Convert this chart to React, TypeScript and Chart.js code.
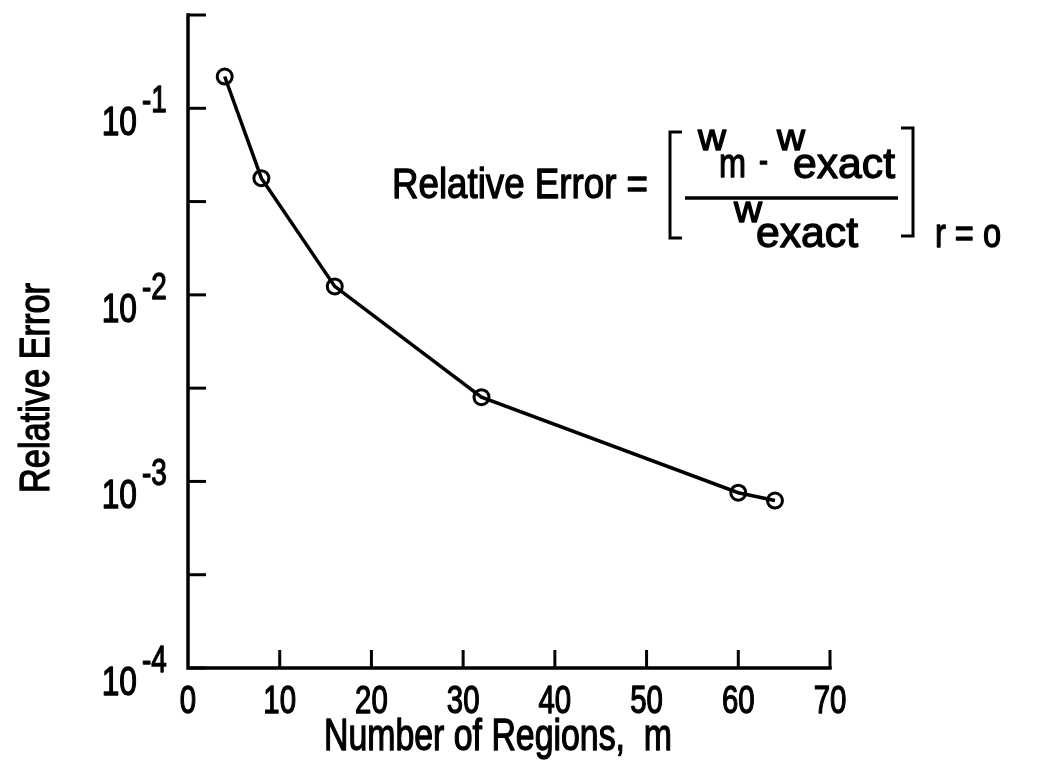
import { useEffect, useRef } from "react";
import { Chart, registerables } from "chart.js";

Chart.register(...registerables);

// ---- data ----
const regions = [4, 8, 16, 32, 60, 64];
const relError = [0.148, 0.0422, 0.0111, 0.00283, 0.00087, 0.00079];
const xTicks = [0, 10, 20, 30, 40, 50, 60, 70];
const xTickLabels = ["0", "10", "20", "30", "40", "50", "60", "70"];
const yMajorTicks = [1e-4, 1e-3, 1e-2, 1e-1];
const yMajorExponents = ["-4", "-3", "-2", "-1"];
const yMinorTicks = [3.1623e-4, 3.1623e-3, 3.1623e-2, 3.1623e-1];
const xTitle = "Number of Regions,  m";
const yTitle = "Relative Error";
const X_MIN = 0;
const X_MAX = 70;
const Y_MIN = 1e-4;
const Y_MAX = 3.1623e-1;

const FONT = "'Liberation Sans', 'DejaVu Sans', sans-serif";

function drawText(
  ctx: CanvasRenderingContext2D,
  s: string,
  x: number,
  y: number,
  size: number,
  align: "left" | "center" | "right",
  targetWidth?: number,
  weight = 1.3
) {
  ctx.font = `${size}px ${FONT}`;
  const w = ctx.measureText(s).width;
  const zero = ctx.measureText("0").width;
  const k = targetWidth ? targetWidth / w : (0.43 * size) / zero;
  const tw = w * k;
  const left = align === "left" ? x : align === "center" ? x - tw / 2 : x - tw;
  ctx.save();
  ctx.translate(left, y);
  ctx.scale(k, 1);
  ctx.textAlign = "left";
  ctx.textBaseline = "alphabetic";
  ctx.fillStyle = "#000";
  ctx.strokeStyle = "#000";
  ctx.lineJoin = "round";
  ctx.lineWidth = weight;
  ctx.fillText(s, 0, 0);
  if (weight > 0) ctx.strokeText(s, 0, 0);
  ctx.restore();
  return tw;
}

const decor = {
  id: "decor",
  beforeDatasetsDraw(chart: any) {
    const ctx: CanvasRenderingContext2D = chart.ctx;
    const xs = chart.scales.x;
    const ys = chart.scales.y;
    const x0 = xs.getPixelForValue(X_MIN);
    const x1 = xs.getPixelForValue(X_MAX);
    const yb = ys.getPixelForValue(Y_MIN);
    const yt = ys.getPixelForValue(Y_MAX);
    ctx.save();
    ctx.strokeStyle = "#000";
    ctx.lineCap = "square";
    ctx.lineWidth = 3.5;
    ctx.beginPath();
    ctx.moveTo(x0, yt);
    ctx.lineTo(x0, yb);
    ctx.lineTo(x1, yb);
    ctx.stroke();
    ctx.lineWidth = 3;
    ctx.lineCap = "butt";
    const tick = 18;
    [...yMajorTicks, ...yMinorTicks].forEach((v) => {
      const py = ys.getPixelForValue(v);
      ctx.beginPath();
      ctx.moveTo(x0, py);
      ctx.lineTo(x0 + tick, py);
      ctx.stroke();
    });
    xTicks.forEach((v) => {
      if (v === X_MIN) return;
      const px = xs.getPixelForValue(v);
      ctx.beginPath();
      ctx.moveTo(px, yb);
      ctx.lineTo(px, yb - tick);
      ctx.stroke();
    });
    ctx.restore();
  },
  afterDraw(chart: any) {
    const ctx: CanvasRenderingContext2D = chart.ctx;
    const xs = chart.scales.x;
    const ys = chart.scales.y;
    const x0 = xs.getPixelForValue(X_MIN);
    const yb = ys.getPixelForValue(Y_MIN);
    ctx.save();
    // x tick labels
    xTicks.forEach((v, i) => {
      const px = xs.getPixelForValue(v);
      drawText(ctx, xTickLabels[i], px, yb + 45, 38, "center");
    });
    // y tick labels 10^k
    yMajorTicks.forEach((v, i) => {
      const py = ys.getPixelForValue(v);
      drawText(ctx, "10", x0 - 51, py + 27, 41, "right");
      drawText(ctx, yMajorExponents[i], x0 - 46, py + 4, 36, "left");
    });
    // axis titles
    drawText(ctx, xTitle, 498, 750, 44, "center", 348);
    ctx.save();
    ctx.translate(49, 388);
    ctx.rotate(-Math.PI / 2);
    drawText(ctx, yTitle, 0, 0, 42, "center", 210);
    ctx.restore();

    // annotation
    drawText(ctx, "Relative Error =", 392, 198, 42, "left", 256);
    drawText(ctx, "w", 698, 150, 36, "left", 28);
    drawText(ctx, "m", 719, 177, 40, "left", 27);
    drawText(ctx, "-", 759, 172, 36, "left", 9);
    drawText(ctx, "w", 777, 150, 36, "left", 28);
    drawText(ctx, "exact", 793, 178, 42, "left", 102);
    drawText(ctx, "w", 734, 222, 36, "left", 28);
    drawText(ctx, "exact", 756, 247, 42, "left", 102);
    drawText(ctx, "r = o", 935, 247, 40, "left", 66);
    ctx.strokeStyle = "#000";
    ctx.lineWidth = 3.5;
    ctx.beginPath();
    ctx.moveTo(685, 198);
    ctx.lineTo(898, 198);
    ctx.stroke();
    ctx.lineWidth = 3;
    ctx.beginPath();
    ctx.moveTo(682, 132);
    ctx.lineTo(670, 132);
    ctx.lineTo(670, 238);
    ctx.lineTo(682, 238);
    ctx.stroke();
    ctx.beginPath();
    ctx.moveTo(901, 128);
    ctx.lineTo(913, 128);
    ctx.lineTo(913, 236);
    ctx.lineTo(901, 236);
    ctx.stroke();
    ctx.restore();
  },
};

export default function App() {
  const ref = useRef<HTMLCanvasElement | null>(null);
  useEffect(() => {
    document.body.style.margin = "0";
    document.body.style.background = "#fff";
    const canvas = ref.current;
    if (!canvas) return;
    const chart = new Chart(canvas, {
      type: "line",
      data: {
        datasets: [
          {
            data: regions.map((m, i) => ({ x: m, y: relError[i] })),
            borderColor: "#000",
            borderWidth: 3.5,
            pointRadius: 7.5,
            pointBorderWidth: 3,
            pointBorderColor: "#000",
            pointBackgroundColor: "rgba(255,255,255,0)",
            tension: 0,
            fill: false,
            clip: false as any,
          },
        ],
      },
      options: {
        animation: false,
        responsive: false,
        devicePixelRatio: 1,
        layout: { padding: { left: 188, right: 215, top: 15, bottom: 110 } },
        plugins: { legend: { display: false }, tooltip: { enabled: false } },
        scales: {
          x: { type: "linear", min: X_MIN, max: X_MAX, display: false },
          y: { type: "logarithmic", min: Y_MIN, max: Y_MAX, display: false },
        },
      },
      plugins: [decor],
    });
    return () => chart.destroy();
  }, []);
  return (
    <div style={{ width: 1045, height: 778, background: "#fff" }}>
      <canvas ref={ref} width={1045} height={778} style={{ display: "block" }} />
    </div>
  );
}
